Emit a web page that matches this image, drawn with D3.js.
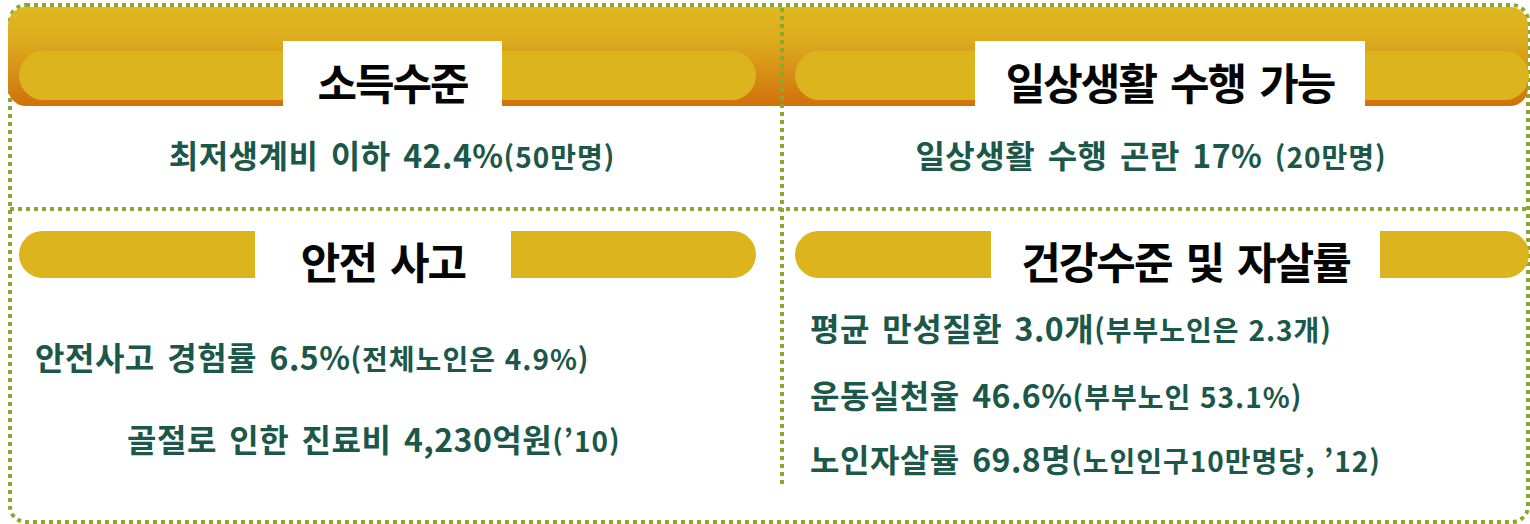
<!doctype html>
<html lang='ko'>

<head>
    <meta charset='UTF-8'>
    <title>노인 생활 현황</title>
    <style>
        html,
        body {
            margin: 0;
            background: #ffffff;
        }

        svg {
            display: block;
        }

        text {
            font-family: "Noto Sans CJK KR", "Noto Sans", sans-serif;
            font-weight: 700;
        }
    </style>
</head>

<body>
    <script src='https://d3js.org/d3.v7.min.js'></script>
    <div class='chart'></div>
    <script>
        // Section titles, clockwise from top-left
        const sectionTitles = ['소득수준', '일상생활 수행 가능', '안전 사고', '건강수준 및 자살률'];

        // Each line: [main text, smaller note in brackets]
        const incomeLines = [['최저생계비 이하 42.4%', '(50만명)']];
        const dailyLifeLines = [['일상생활 수행 곤란 17% ', '(20만명)']];
        const safetyLines = [
            ['안전사고 경험률 6.5%', '(전체노인은 4.9%)'],
            ['골절로 인한 진료비 4,230억원', '(’10)']
        ];
        const healthLines = [
            ['평균 만성질환 3.0개', '(부부노인은 2.3개)'],
            ['운동실천율 46.6%', '(부부노인 53.1%)'],
            ['노인자살률 69.8명', '(노인인구10만명당, ’12)']
        ];

        const width = 1530;
        const height = 524;

        const colors = {
            dots: '#8aa82c',
            gold: '#dcb41d',
            text: '#1b5849',
            title: '#050505'
        };

        const svg = d3.select('.chart')
            .append('svg')
            .attr('width', width)
            .attr('height', height);

        const defs = svg.append('defs');
        const grad = defs.append('linearGradient')
            .attr('id', 'band')
            .attr('x1', 0).attr('y1', 0)
            .attr('x2', 0).attr('y2', 1);
        grad.append('stop').attr('offset', '0%').attr('stop-color', '#dfb821');
        grad.append('stop').attr('offset', '35%').attr('stop-color', '#dcab1c');
        grad.append('stop').attr('offset', '60%').attr('stop-color', '#d89418');
        grad.append('stop').attr('offset', '100%').attr('stop-color', '#d2700b');

        // outer dotted frame
        svg.append('rect')
            .attr('x', 10).attr('y', 5)
            .attr('width', 1518).attr('height', 517)
            .attr('rx', 16)
            .attr('fill', 'none')
            .attr('stroke', colors.dots)
            .attr('stroke-width', 4)
            .attr('stroke-dasharray', '4 4');

        // top orange band
        svg.append('rect')
            .attr('x', 8).attr('y', 7)
            .attr('width', 1520).attr('height', 99)
            .attr('rx', 18)
            .attr('fill', 'url(#band)');

        const pillRows = [
            {col: 0, y: 51, h: 49, title: sectionTitles[0], gap: [283, 502], boxTop: 41},
            {col: 1, y: 51, h: 49, title: sectionTitles[1], gap: [975, 1365], boxTop: 41},
            {col: 0, y: 231, h: 47, title: sectionTitles[2], gap: [255, 511]},
            {col: 1, y: 231, h: 47, title: sectionTitles[3], gap: [991, 1380]}
        ];

        const colStart = [19, 795];
        const colEnd = [756, 1529];

        pillRows.forEach((p) => {
            svg.append('rect')
                .attr('x', colStart[p.col])
                .attr('y', p.y)
                .attr('width', colEnd[p.col] - colStart[p.col])
                .attr('height', p.h)
                .attr('rx', p.h / 2)
                .attr('fill', colors.gold);

            const top = p.boxTop !== undefined ? p.boxTop : p.y - 1;
            const bottom = p.boxTop !== undefined ? 106 : p.y + p.h + 1;
            svg.append('rect')
                .attr('x', p.gap[0])
                .attr('y', top)
                .attr('width', p.gap[1] - p.gap[0])
                .attr('height', bottom - top)
                .attr('fill', '#ffffff');

            svg.append('text')
                .attr('x', (p.gap[0] + p.gap[1]) / 2)
                .attr('y', p.boxTop !== undefined ? 100 : 279)
                .attr('text-anchor', 'middle')
                .attr('font-size', 43)
                .attr('letter-spacing', -2)
                .attr('word-spacing', 4)
                .attr('fill', colors.title)
                .text(p.title);
        });

        // dotted dividers
        svg.append('line')
            .attr('x1', 10).attr('x2', 1528)
            .attr('y1', 209).attr('y2', 209)
            .attr('stroke', colors.dots)
            .attr('stroke-width', 4)
            .attr('stroke-dasharray', '4 4');

        svg.append('line')
            .attr('x1', 782).attr('x2', 782)
            .attr('y1', 8).attr('y2', 488)
            .attr('stroke', colors.dots)
            .attr('stroke-width', 4)
            .attr('stroke-dasharray', '4 4');

        // body text blocks
        const blocks = [
            {lines: incomeLines, anchor: 'middle', x: [392], y: [168]},
            {lines: dailyLifeLines, anchor: 'middle', x: [1151], y: [168]},
            {lines: safetyLines, anchor: 'start', x: [35, 127], y: [370, 452]},
            {lines: healthLines, anchor: 'start', x: [810, 810, 810], y: [341, 408, 472]}
        ];

        blocks.forEach((b) => {
            svg.selectAll(null)
                .data(b.lines)
                .enter()
                .append('text')
                .attr('x', (d, i) => b.x[i])
                .attr('y', (d, i) => b.y[i])
                .attr('text-anchor', b.anchor)
                .attr('fill', colors.text)
                .each(function (d) {
                    const t = d3.select(this);
                    t.append('tspan')
                        .attr('font-size', 32)
                        .attr('letter-spacing', 0.5)
                        .attr('word-spacing', 3)
                        .text(d[0]);
                    t.append('tspan')
                        .attr('font-size', 28)
                        .attr('letter-spacing', 1)
                        .text(d[1]);
                });
        });
    </script>
</body>

</html>
